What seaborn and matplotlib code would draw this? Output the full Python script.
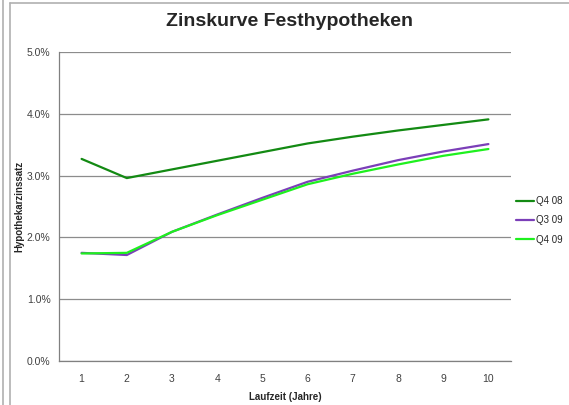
import pandas as pd
import matplotlib.pyplot as plt
import seaborn as sns
from matplotlib.lines import Line2D
from matplotlib.ticker import FuncFormatter

# Laufzeit in Jahren
laufzeit = [1, 2, 3, 4, 5, 6, 7, 8, 9, 10]
# Zinssätze in Prozent
q4_08 = [3.27, 2.96, 3.10, 3.24, 3.38, 3.52, 3.63, 3.73, 3.82, 3.91]
q3_09 = [1.75, 1.715, 2.09, 2.37, 2.64, 2.90, 3.08, 3.25, 3.39, 3.51]
q4_09 = [1.74, 1.75, 2.09, 2.36, 2.61, 2.86, 3.03, 3.18, 3.32, 3.43]
labels = ['Q4 08', 'Q3 09', 'Q4 09']
colors = ['#138a13', '#7b3fb8', '#1ef01e']

df = pd.DataFrame({'Laufzeit': laufzeit * 3,
                   'Zins': q4_08 + q3_09 + q4_09,
                   'Serie': [l for l in labels for _ in laufzeit]})

sns.set_style('white')
plt.rcParams['font.family'] = ['Liberation Sans', 'DejaVu Sans']

fig = plt.figure(figsize=(5.69, 4.05), dpi=100)
ax = fig.add_axes([59 / 569, 1 - 361 / 405, (511 - 59) / 569, (361 - 52) / 405])

sns.lineplot(data=df, x='Laufzeit', y='Zins', hue='Serie', palette=colors,
             linewidth=1.6, ax=ax, legend=False)

ax.set_xlim(0.5, 10.5)
ax.set_ylim(0, 5)
ax.set_yticks([0, 1, 2, 3, 4, 5])
ax.yaxis.set_major_formatter(FuncFormatter(lambda v, p: f'{v:.1f}%'))
ax.set_xticks(laufzeit)
ax.set_xticks([x + 0.5 for x in range(0, 11)], minor=True)
ax.tick_params(axis='x', which='major', length=0, labelsize=7.5, colors='#404040', pad=9)
ax.tick_params(axis='x', which='minor', length=3, color='#808080', direction='out')
ax.tick_params(axis='y', length=3, color='#808080', direction='out', labelsize=7.5,
               labelcolor='#404040', pad=3)
ax.grid(axis='y', color='#8c8c8c', linewidth=0.9)
ax.set_axisbelow(True)
for s in ['top', 'right']:
    ax.spines[s].set_visible(False)
for s in ['left', 'bottom']:
    ax.spines[s].set_color('#808080')
    ax.spines[s].set_linewidth(0.9)

ax.set_xlabel('Laufzeit (Jahre)', fontsize=7, fontweight='bold', labelpad=6)
ax.set_ylabel('Hypothekarzinssatz', fontsize=7, fontweight='bold', labelpad=2)
fig.text(290 / 569, 1 - 21 / 405, 'Zinskurve Festhypotheken', ha='center', va='center',
         fontsize=14, fontweight='bold')

handles = [Line2D([], [], color=c, linewidth=1.6) for c in colors]
ax.legend(handles, labels, loc='center left', bbox_to_anchor=(1.0, 0.455), frameon=False,
          fontsize=7, handlelength=1.9, handletextpad=0.2, labelspacing=0.95,
          borderaxespad=0.1)

# Rahmen wie im Excel-Diagramm
fig.add_artist(Line2D([3 / 569, 3 / 569], [0, 1], color='#b0b0b0', linewidth=1.2))
fig.add_artist(Line2D([10 / 569, 10 / 569], [0, 1 - 3 / 405], color='#b0b0b0', linewidth=1.2))
fig.add_artist(Line2D([10 / 569, 1], [1 - 3 / 405, 1 - 3 / 405], color='#b0b0b0', linewidth=1.2))

fig.savefig('out.png', dpi=100)
